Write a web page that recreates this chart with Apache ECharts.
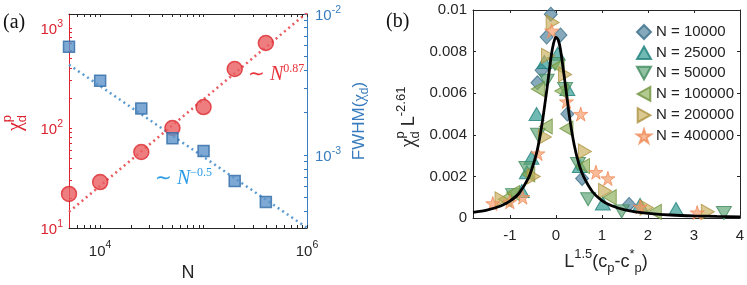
<!DOCTYPE html>
<html><head><meta charset="utf-8">
<script src="https://cdn.jsdelivr.net/npm/echarts@6/dist/echarts.min.js"></script>
<style>html,body{margin:0;padding:0;background:#fff}#c{width:747px;height:285px}</style>
</head><body><div id="c"></div>
<script>
// ---------- Panel (a) data ----------
const sizesN   = [5000, 10000, 25000, 50000, 100000, 200000, 400000];
const chiPeak  = [21.9, 28.8, 57.5, 100, 162, 389, 708];
const fwhm     = [5.86e-3, 3.37e-3, 2.14e-3, 1.32e-3, 1.07e-3, 6.56e-4, 4.67e-4];
const fitChiN  = [5000, 1000000];
const fitChiV  = [14.5, 1420];
const fitFwN   = [5000, 1000000];
const fitFwV   = [4.37e-3, 3.06e-4];
// tick values (a)
const xTickA   = [6000,7000,8000,9000,10000,20000,30000,40000,50000,60000,70000,80000,90000,100000,200000,300000,400000,500000,600000,700000,800000,900000,1000000];
const xLabA    = [10000, 1000000];
const yTickL   = [20,30,40,50,60,70,80,90,100,200,300,400,500,600,700,800,900,1000];
const yLabL    = [10, 100, 1000];
const yTickR   = [4e-4,5e-4,6e-4,7e-4,8e-4,9e-4,1e-3,2e-3,3e-3,4e-3,5e-3,6e-3,7e-3,8e-3,9e-3,1e-2];
const yLabR    = [1e-3, 1e-2];
// ---------- Panel (b) data ----------
const legendNames = ['N = 10000','N = 25000','N = 50000','N = 100000','N = 200000','N = 400000'];
const pts10k  = [[-0.4,0.0065],[-0.31,0.0071],[-0.2,0.0087],[-0.11,0.0098],[0.1,0.0088],[0.25,0.005],[0.57,0.0019],[1.59,0.00065]];
const pts25k  = [[-0.74,0.0013],[-0.63,0.0022],[-0.53,0.0029],[-0.42,0.005],[-0.25,0.0075],[0.04,0.0079],[0.25,0.0062],[0.52,0.0025],[1.02,0.0007],[1.83,0.00063],[2.61,0.00043]];
const pts50k  = [[-0.93,0.0011],[-0.64,0.0024],[-0.39,0.004],[-0.2,0.0066],[-0.02,0.0074],[0.2,0.0062],[0.48,0.0026],[0.7,0.0009],[1.43,0.00032],[3.65,0.00024]];
const pts100k = [[-1.11,0.0009],[-0.93,0.0012],[-0.6,0.0021],[-0.39,0.0062],[-0.22,0.0044],[0.04,0.0073],[0.12,0.0061],[0.23,0.0043],[0.59,0.0025],[1.17,0.001],[2.15,0.0003]];
const pts200k = [[-1.18,0.0009],[-0.48,0.002],[-0.24,0.0039],[-0.17,0.0078],[-0.07,0.0094],[0.2,0.0069],[0.63,0.0032],[1.07,0.0013],[1.97,0.0005],[3.3,0.0003]];
const pts400k = [[-1.37,0.0007],[-1.0,0.00078],[-0.72,0.001],[-0.39,0.0031],[-0.09,0.009],[0.23,0.0056],[0.54,0.005],[0.87,0.0022],[1.13,0.0019],[1.83,0.00053],[3.07,0.00026]];
const curveX = [-1.8,-1.5,-1.2,-1.0,-0.8,-0.6,-0.5,-0.4,-0.3,-0.2,-0.1,-0.05,0,0.05,0.1,0.2,0.3,0.4,0.5,0.6,0.8,1.0,1.2,1.5,2,2.5,3,3.5,4];
const curveY = [0.00027,0.00038,0.00058,0.00081,0.00119,0.0019,0.0025,0.0033,0.00453,0.0061,0.0078,0.0084,0.0087,0.00857,0.0081,0.0065,0.0048,0.0035,0.0026,0.002,0.00125,0.00084,0.0006,0.00039,0.00022,0.000144,0.0001,0.000074,0.000057];
const xTicksB = [-1,0,1,2,3,4];

const RED='#dc2430', BLUE='#3a7dbe', INK='#262626';
const SANS='Liberation Sans', SERIF='Liberation Serif';

const chart = echarts.init(document.getElementById('c'), null, {renderer:'canvas'});

function powLabel(color){
  return {
    formatter: v => '{b|10}{s|' + Math.round(Math.log10(v)) + '}',
    rich: {
      b: {fontSize:15, fontFamily:SANS, color, verticalAlign:'bottom'},
      s: {fontSize:10.5, fontFamily:SANS, color, verticalAlign:'bottom', padding:[0,0,8,0]}
    }
  };
}
const noSplit = {show:false};
function lineAx(color){ return {show:true, onZero:false, lineStyle:{color, width:1}}; }

// text helpers
const cx = document.createElement('canvas').getContext('2d');
function tw(t, size, fam, it){ cx.font = (it?'italic ':'') + size + 'px "' + fam + '"'; return cx.measureText(t).width; }
function chain(parts, color){
  let x = 0; const els = [];
  for (const p of parts){
    const s = p.s, f = p.f || SANS;
    els.push({type:'text', x: x, y: (p.dy||0) - 0.33*s, style:{text:p.t, fontSize:s, fontFamily:f, fontStyle:p.it?'italic':'normal', fill:p.c||color, align:'left', verticalAlign:'middle'}});
    if (!p.stack) x += tw(p.t, s, f, p.it);
  }
  return {els, width:x};
}
function textGroup(x, y, parts, color, rot, anchor){
  const c = chain(parts, color);
  const off = anchor==='center' ? -c.width/2 : 0;
  c.els.forEach(e => e.x += off);
  return {type:'group', x, y, rotation: rot||0, children: c.els, silent:true};
}

const graphics = [
  textGroup(3, 29, [{t:'(a)', s:20, f:SERIF}], '#111'),
  textGroup(386, 28, [{t:'(b)', s:20, f:SERIF}], '#111'),
  // (a) y-label left
  textGroup(22, 123, [{t:'χ', s:20, f:SERIF},{t:'p', s:13, dy:-10, stack:true},{t:'d', s:13, dy:5}], RED, Math.PI/2, 'center'),
  // (a) y-label right
  textGroup(365, 121, [{t:'FWHM(', s:17},{t:'χ', s:17, f:SERIF},{t:'d', s:12, dy:4},{t:')', s:17}], BLUE, Math.PI/2, 'center'),
  // (a) x-label
  textGroup(188, 279, [{t:'N', s:18}], INK, 0, 'center'),
  // annotations
  textGroup(248, 81, [{t:'∼ ', s:20, f:SERIF},{t:'N', s:20, f:SERIF, it:true},{t:'0.87', s:12, f:SERIF, dy:-8}], '#e8333a'),
  textGroup(155, 185, [{t:'∼ ', s:20, f:SERIF},{t:'N', s:20, f:SERIF, it:true},{t:'−0.5', s:12, f:SERIF, dy:-8}], '#2a9be6'),
  // (b) y-label
  textGroup(415, 117, [{t:'χ', s:20, f:SERIF},{t:'p', s:13, dy:-10, stack:true},{t:'d', s:13, dy:5},{t:' L', s:18},{t:'-2.61', s:13, dy:-9}], INK, Math.PI/2, 'center'),
  // (b) x-label
  textGroup(606, 268, [{t:'L', s:18},{t:'1.5', s:13, dy:-9},{t:'(c', s:18},{t:'p', s:13, dy:5},{t:'-c', s:18},{t:'*', s:13, dy:-9},{t:'p', s:13, dy:5},{t:')', s:18}], INK, 0, 'center')
];

const starPath = 'path://M50,0 L61,35 L98,35 L68,57 L79,91 L50,70 L21,91 L32,57 L2,35 L39,35 Z';
const fills = ['rgba(70,125,152,0.82)','rgba(38,150,140,0.82)','rgba(88,160,112,0.82)','rgba(138,172,85,0.82)','rgba(200,172,88,0.82)','rgba(245,155,105,0.85)'];
const edges = ['#3a6d88','#1e807a','#3f8a5c','#71933f','#ad923f','#f08a58'];
const syms  = ['diamond','path://M5,0 L10,9 L0,9 Z','path://M0,0 L10,0 L5,9 Z','path://M9,0 L9,10 L0,5 Z','path://M0,0 L0,10 L9,5 Z', starPath];
const sizes = [[13,14],[15,13],[15,13],[13,15],[13,15],[14,14]];
const ptsB  = [pts10k, pts25k, pts50k, pts100k, pts200k, pts400k];

const bSeries = ptsB.map((d,i) => ({
  type:'scatter', name:legendNames[i], xAxisIndex:2, yAxisIndex:2, data:d,
  symbol:syms[i], symbolSize:sizes[i],
  itemStyle:{color:fills[i], borderColor:edges[i], borderWidth:1}, z:3
}));

chart.setOption({
  animation:false,
  backgroundColor:'#fff',
  grid:[
    {left:69, top:14, width:238, height:214, outerBoundsMode:'none', containLabel:false},
    {left:473, top:10, width:267, height:208, outerBoundsMode:'none', containLabel:false}
  ],
  legend:{
    orient:'vertical', left:631, top:19, itemWidth:14, itemHeight:14, itemGap:5.3, itemTextGap:4,
    textStyle:{fontSize:15, fontFamily:SANS, color:'#222'}, data:legendNames, selectedMode:false
  },
  xAxis:[
    {gridIndex:0, type:'log', min:5000, max:1e6, position:'bottom', axisLine:lineAx(INK),
     axisTick:{inside:true, length:3, customValues:xTickA, lineStyle:{color:INK}},
     axisLabel:Object.assign({customValues:xLabA, margin:12}, powLabel(INK)), splitLine:noSplit},
    {gridIndex:0, type:'log', min:5000, max:1e6, position:'top', axisLine:lineAx(INK),
     axisTick:{inside:true, length:3, customValues:xTickA, lineStyle:{color:INK}},
     axisLabel:{show:false}, splitLine:noSplit},
    {gridIndex:1, type:'value', min:-1.8, max:4, position:'bottom', axisLine:lineAx(INK),
     axisTick:{inside:true, length:3, customValues:xTicksB, lineStyle:{color:INK}},
     axisLabel:{customValues:xTicksB, fontSize:15, fontFamily:SANS, color:INK, margin:10}, splitLine:noSplit},
    {gridIndex:1, type:'value', min:-1.8, max:4, position:'top', axisLine:lineAx(INK),
     axisTick:{inside:true, length:3, customValues:xTicksB, lineStyle:{color:INK}},
     axisLabel:{show:false}, splitLine:noSplit}
  ],
  yAxis:[
    {gridIndex:0, type:'log', min:10, max:1380, position:'left', axisLine:lineAx(RED),
     axisTick:{inside:true, length:3, customValues:yTickL, lineStyle:{color:RED}},
     axisLabel:Object.assign({customValues:yLabL, margin:6}, powLabel(RED)), splitLine:noSplit},
    {gridIndex:0, type:'log', min:3.05e-4, max:1e-2, position:'right', axisLine:lineAx(BLUE),
     axisTick:{inside:true, length:3, customValues:yTickR, lineStyle:{color:BLUE}},
     axisLabel:Object.assign({customValues:yLabR, margin:8}, powLabel(BLUE)), splitLine:noSplit},
    {gridIndex:1, type:'value', min:0, max:0.01, interval:0.002, position:'left', axisLine:lineAx(INK),
     axisTick:{inside:true, length:3, lineStyle:{color:INK}},
     axisLabel:{fontSize:15, fontFamily:SANS, color:INK, margin:6, formatter: v => v===0 ? '0' : String(+v.toFixed(3))}, splitLine:noSplit},
    {gridIndex:1, type:'value', min:0, max:0.01, interval:0.002, position:'right', axisLine:lineAx(INK),
     axisTick:{inside:true, length:3, lineStyle:{color:INK}}, axisLabel:{show:false}, splitLine:noSplit}
  ],
  graphic: graphics,
  series:[
    {type:'line', xAxisIndex:0, yAxisIndex:0, data:fitChiN.map((n,i)=>[n,fitChiV[i]]), symbol:'none',
     lineStyle:{color:'#ea5a5e', width:2.5, type:[2,3.5]}, z:1, silent:true},
    {type:'line', xAxisIndex:0, yAxisIndex:1, data:fitFwN.map((n,i)=>[n,fitFwV[i]]), symbol:'none',
     lineStyle:{color:'#5b9bd2', width:2.5, type:[2,3.5]}, z:1, silent:true},
    {type:'scatter', xAxisIndex:0, yAxisIndex:0, data:sizesN.map((n,i)=>[n,chiPeak[i]]), symbol:'circle', symbolSize:15,
     itemStyle:{color:'#ea5c60', borderColor:'#dc2a30', borderWidth:1.5}, z:3},
    {type:'scatter', xAxisIndex:0, yAxisIndex:1, data:sizesN.map((n,i)=>[n,fwhm[i]]), symbol:'rect', symbolSize:11,
     itemStyle:{color:'#5d93c9', borderColor:'#2f6aa6', borderWidth:1.5}, z:3},
    ...bSeries,
    {type:'line', xAxisIndex:2, yAxisIndex:2, data:curveX.map((x,i)=>[x,curveY[i]]), symbol:'none', smooth:0.25,
     lineStyle:{color:'#000', width:2.8}, z:5, silent:true}
  ]
});
</script></body></html>
